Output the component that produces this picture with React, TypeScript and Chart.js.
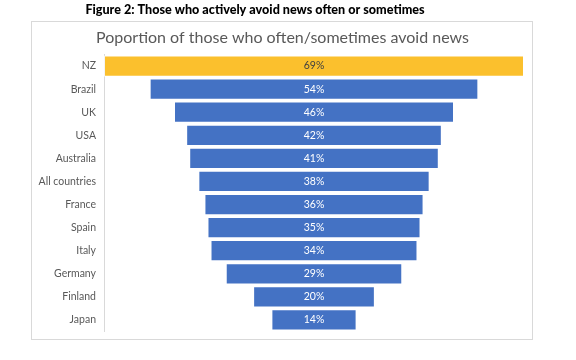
import React, { useEffect, useRef } from "react";
import { Chart, registerables } from "chart.js";

Chart.register(...registerables);

const figureTitle = "Figure 2: Those who actively avoid news often or sometimes";
const chartTitle = "Poportion of those who often/sometimes avoid news";
const countries = ["NZ", "Brazil", "UK", "USA", "Australia", "All countries", "France", "Spain", "Italy", "Germany", "Finland", "Japan"];
const shares = [69, 54, 46, 42, 41, 38, 36, 35, 34, 29, 20, 14];
const highlight = ["NZ"];

const FONT = "Lato, 'Open Sans', sans-serif";

export default function App() {
  const ref = useRef<HTMLCanvasElement | null>(null);

  useEffect(() => {
    const canvas = ref.current;
    if (!canvas) return;

    const framePlugin = {
      id: "frameAndTitles",
      beforeDraw(chart: any) {
        const ctx = chart.ctx;
        ctx.save();
        ctx.fillStyle = "#ffffff";
        ctx.fillRect(0, 0, chart.width, chart.height);
        ctx.strokeStyle = "#d9d9d9";
        ctx.lineWidth = 1;
        ctx.strokeRect(31.5, 21.5, 501, 318);
        ctx.textAlign = "center";
        ctx.textBaseline = "middle";
        ctx.fillStyle = "#000000";
        ctx.font = `900 12.6px ${FONT}`;
        ctx.fillText(figureTitle, 255, 10);
        ctx.fillStyle = "#595959";
        ctx.font = `16px ${FONT}`;
        ctx.fillText(chartTitle, 282.5, 38);
        ctx.restore();
      },
    };

    const labelPlugin = {
      id: "centerLabels",
      afterDatasetsDraw(chart: any) {
        const ctx = chart.ctx;
        const meta = chart.getDatasetMeta(0);
        const xScale = chart.scales.x;
        ctx.save();
        ctx.font = `10.5px ${FONT}`;
        ctx.textAlign = "center";
        ctx.textBaseline = "middle";
        meta.data.forEach((bar: any, i: number) => {
          ctx.fillStyle = highlight.includes(countries[i]) ? "#404040" : "#ffffff";
          ctx.fillText(shares[i] + "%", xScale.getPixelForValue(0), bar.y);
        });
        ctx.restore();
      },
    };

    const chart = new Chart(canvas, {
      type: "bar",
      data: {
        labels: countries,
        datasets: [
          {
            data: shares.map((v) => [-v / 2, v / 2]) as any,
            backgroundColor: countries.map((c) => (highlight.includes(c) ? "#FBC02D" : "#4472C4")),
            borderColor: "rgba(255,255,255,0.7)",
            borderWidth: 1,
            borderSkipped: false,
            categoryPercentage: 1,
            barPercentage: 0.92,
          },
        ],
      },
      options: {
        indexAxis: "y",
        responsive: false,
        animation: false,
        layout: { padding: { left: 24, right: 52, top: 54.5, bottom: 28.5 } },
        plugins: {
          legend: { display: false },
          tooltip: { enabled: false },
          title: { display: false },
        },
        scales: {
          x: { type: "linear", min: -34.5, max: 34.5, display: false },
          y: {
            type: "category",
            grid: { display: false, drawTicks: false },
            border: { display: true, color: "#d9d9d9", width: 1 },
            ticks: { color: "#595959", font: { family: FONT, size: 10.5 }, padding: 8 },
            afterFit(scale: any) {
              scale.width = 80;
            },
          },
        },
      },
      plugins: [framePlugin, labelPlugin],
    });
    return () => chart.destroy();
  }, []);

  return (
    <div style={{ position: "fixed", left: 0, top: 0, width: 576, height: 360 }}>
      <canvas ref={ref} width={576} height={360} style={{ display: "block" }} />
    </div>
  );
}
